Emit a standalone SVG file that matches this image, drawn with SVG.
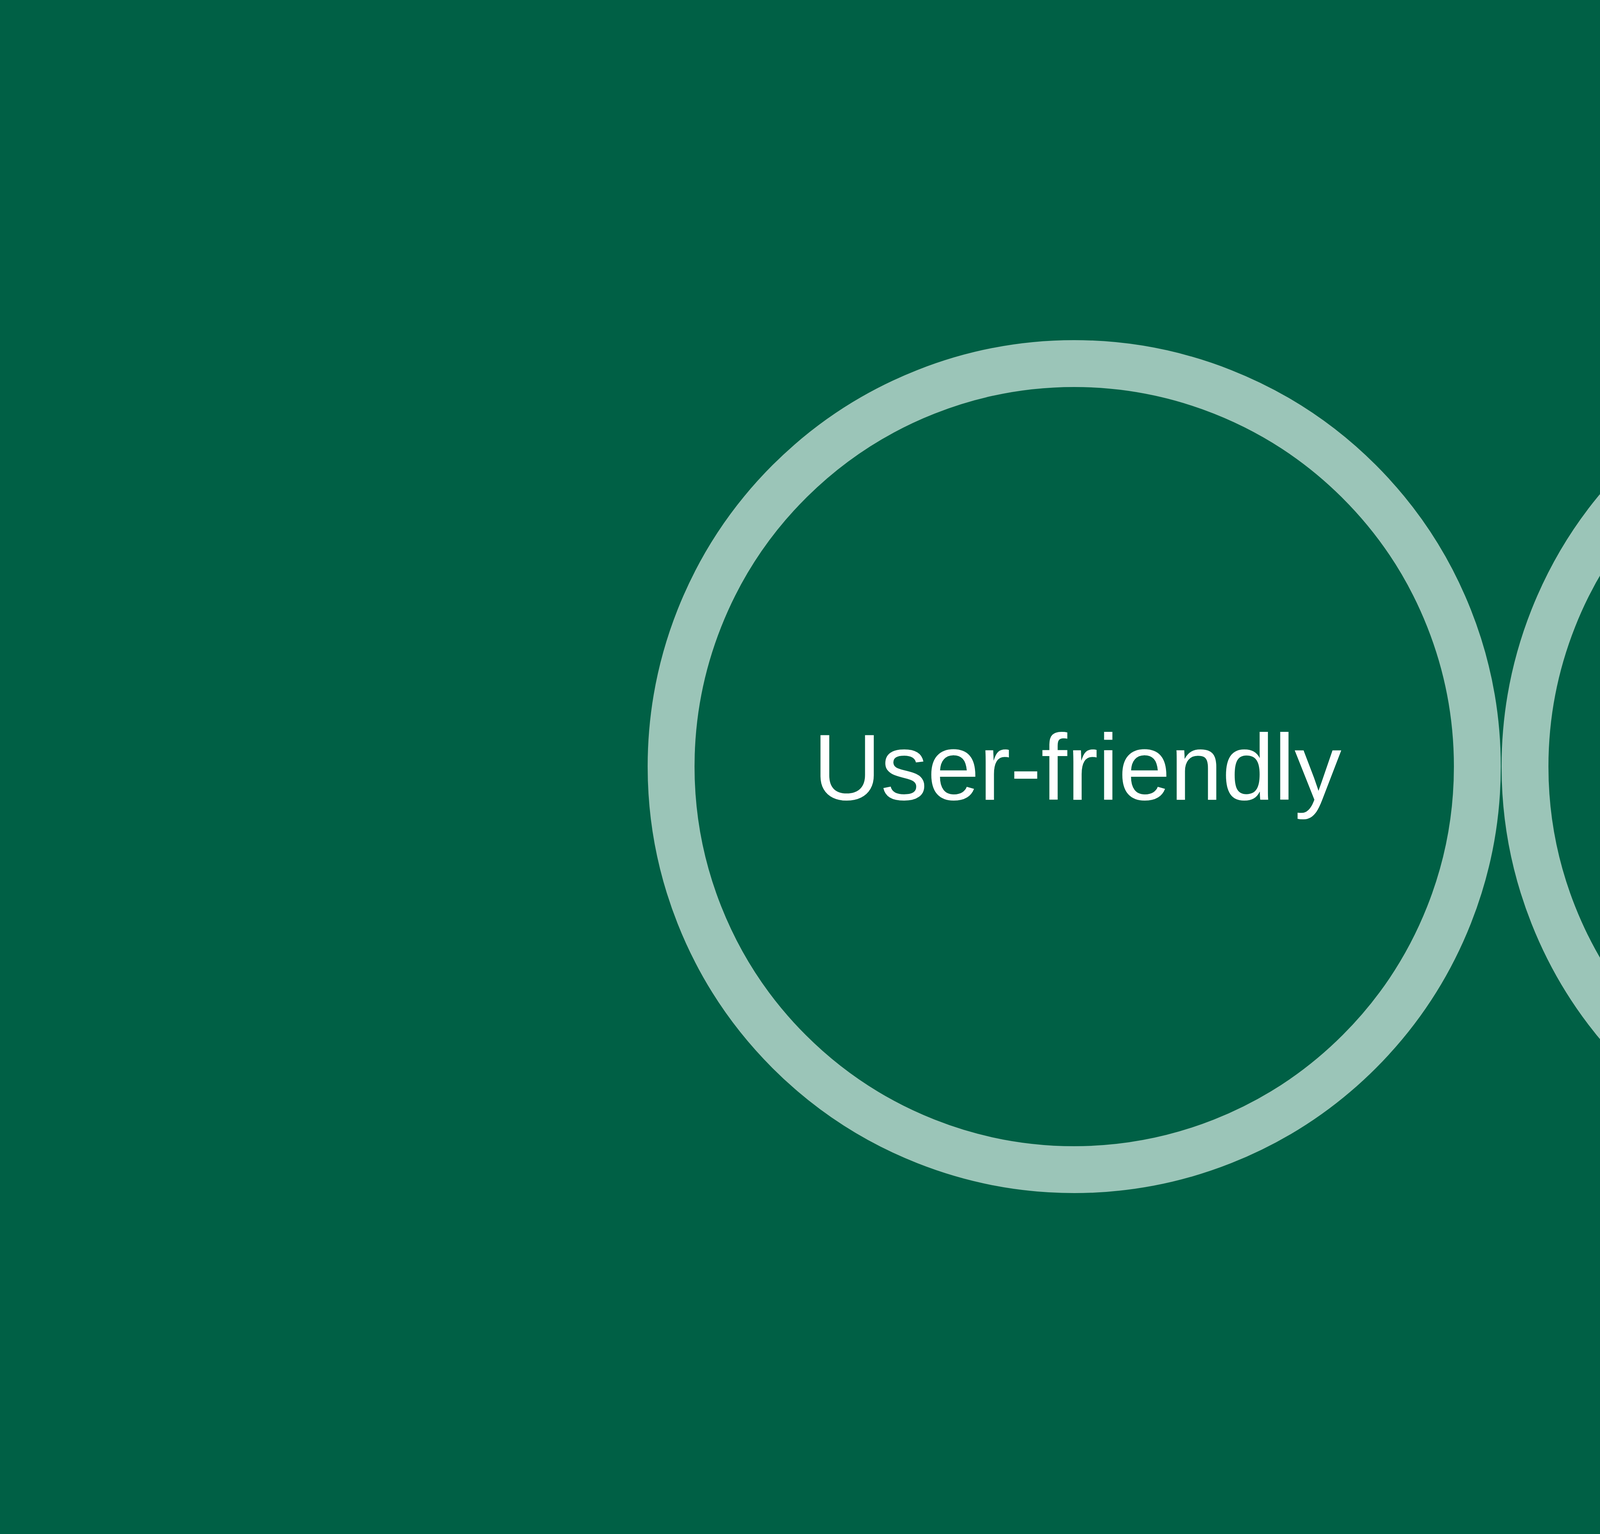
<svg xmlns="http://www.w3.org/2000/svg" width="7688" height="3928" viewBox="0 0 7688 3928">
<style>
.ring{fill:none;stroke:#9BC5B8;stroke-width:120}
.lbl{font-family:"Liberation Sans",Arial,sans-serif;font-size:240px;fill:#FFFFFF;text-anchor:middle}
</style>
<rect width="7688" height="3928" fill="#006045"/>
<g id="node-user-friendly">
<circle class="ring" cx="2750" cy="1963" r="1032"/>
<text class="lbl" x="2758" y="2048" textLength="1352" lengthAdjust="spacing">User-friendly</text>
</g>
<g id="node-user-familiar">
<circle class="ring" cx="4936" cy="1963" r="1032"/>
<text class="lbl" x="4944" y="2048" textLength="1362" lengthAdjust="spacing">User-familiar</text>
</g>
<g id="connectors"></g>
</svg>
